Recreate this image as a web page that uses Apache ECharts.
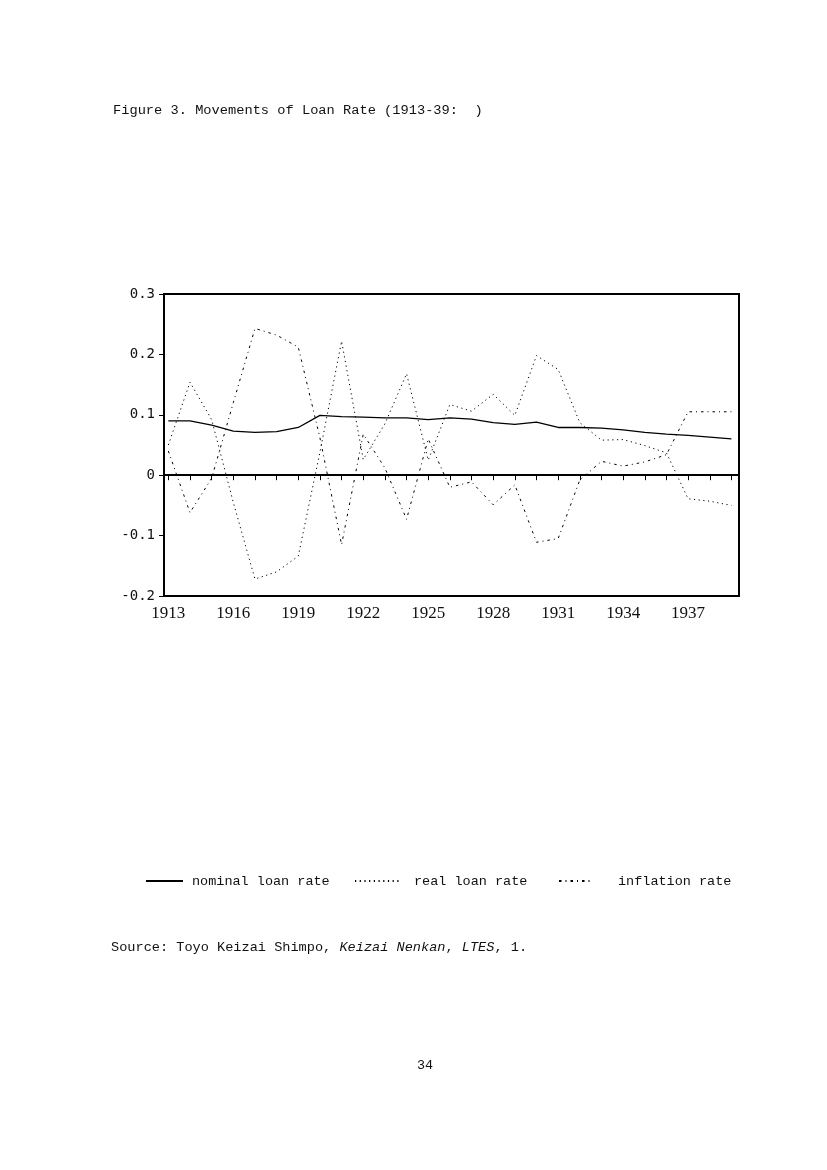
<!DOCTYPE html>
<html>
<head>
<meta charset="utf-8">
<script src="https://cdn.jsdelivr.net/npm/echarts@6/dist/echarts.min.js"></script>
<style>
  html, body { margin: 0; padding: 0; background: #fff; }
  #chart { width: 827px; height: 1170px; }
</style>
</head>
<body>
<div id="chart"></div>
<script>
// ---- data ----
const years = [1913,1914,1915,1916,1917,1918,1919,1920,1921,1922,1923,1924,1925,1926,
               1927,1928,1929,1930,1931,1932,1933,1934,1935,1936,1937,1938,1939];
const nominalLoanRate = [0.090,0.090,0.083,0.073,0.071,0.072,0.079,0.099,0.097,0.096,0.095,0.095,0.092,
                         0.095,0.093,0.087,0.084,0.088,0.079,0.079,0.078,0.075,0.071,0.068,0.066,0.063,0.060];
const realLoanRate = [0.050,0.154,0.092,-0.045,-0.172,-0.160,-0.134,0.038,0.222,0.026,0.085,0.168,0.025,
                      0.117,0.106,0.134,0.099,0.198,0.175,0.087,0.058,0.059,0.049,0.037,-0.039,-0.043,-0.050];
const inflationRate = [0.040,-0.062,-0.005,0.120,0.243,0.232,0.212,0.062,-0.115,0.068,0.012,-0.073,0.060,
                       -0.020,-0.011,-0.049,-0.016,-0.111,-0.105,-0.008,0.023,0.015,0.022,0.034,0.105,0.105,0.105];
const xTickLabels = [1913,1916,1919,1922,1925,1928,1931,1934,1937];
const seriesNames = ['nominal loan rate', 'real loan rate', 'inflation rate'];
const titleText = 'Figure 3. Movements of Loan Rate (1913-39:  )';
const pageNumber = '34';

const pairs = (vals) => years.map((y, i) => [y, vals[i]]);

const chart = echarts.init(document.getElementById('chart'), null, { renderer: 'canvas' });
const mono = 'Liberation Mono';
const baseText = { fontFamily: mono, fontSize: 13.5, color: '#111', fontWeight: 'normal' };
const legendBase = {
  orient: 'horizontal',
  top: 869,
  itemHeight: 14,
  itemStyle: { opacity: 0 },
  selectedMode: false
};

chart.setOption({
  backgroundColor: '#ffffff',
  animation: false,
  title: [
    { text: titleText, left: 108, top: 98,
      textStyle: { fontFamily: mono, fontSize: 13.7, fontWeight: 'normal', color: '#111' } },
    { text: '{a|Source: Toyo Keizai Shimpo, }{b|Keizai Nenkan}{a|, }{b|LTES}{a|, 1.}',
      left: 106, top: 935,
      textStyle: { fontWeight: 'normal', rich: {
        a: { fontFamily: mono, fontSize: 13.6, fontWeight: 'normal', color: '#111' },
        b: { fontFamily: mono, fontSize: 13.6, fontWeight: 'normal', fontStyle: 'italic', color: '#111' } } } },
    { text: pageNumber, left: 412, top: 1054,
      textStyle: { fontFamily: mono, fontSize: 13.4, fontWeight: 'normal', color: '#111' } }
  ],
  legend: [
    Object.assign({}, legendBase, { left: 140, itemWidth: 37, data: [seriesNames[0]],
      textStyle: Object.assign({}, baseText, { padding: [0,0,0,4] }) }),
    Object.assign({}, legendBase, { left: 349, itemWidth: 44, data: [seriesNames[1]],
      textStyle: Object.assign({}, baseText, { padding: [0,0,0,10] }) }),
    Object.assign({}, legendBase, { left: 553, itemWidth: 33, data: [seriesNames[2]],
      textStyle: Object.assign({}, baseText, { padding: [0,0,0,21] }) })
  ],
  grid: {
    left: 164, right: 88, top: 294, bottom: 574,
    show: true, borderColor: '#000', borderWidth: 2, backgroundColor: 'transparent'
  },
  xAxis: {
    type: 'value', min: 1912.8, max: 1939.35,
    splitLine: { show: false },
    axisLine: { show: true, lineStyle: { color: '#000', width: 2 } },
    axisTick: { show: true, length: 5, customValues: years, lineStyle: { color: '#000' } },
    axisLabel: { customValues: xTickLabels, margin: 9, formatter: (v) => String(v),
      fontFamily: 'Liberation Serif', fontSize: 17, color: '#111' }
  },
  yAxis: {
    type: 'value', min: -0.2, max: 0.3, interval: 0.1,
    splitLine: { show: false },
    axisLine: { show: true, lineStyle: { color: '#000', width: 2 } },
    axisTick: { show: true, length: 5, lineStyle: { color: '#000' } },
    axisLabel: { margin: 9, formatter: (v) => String(Math.round(v * 10) / 10),
      fontFamily: 'DejaVu Sans Mono', fontSize: 14, color: '#111' }
  },
  series: [
    { name: seriesNames[0], type: 'line', data: pairs(nominalLoanRate), symbol: 'none',
      lineStyle: { color: '#000', width: 1.3, type: 'solid' }, itemStyle: { color: '#000' },
      markLine: { silent: true, symbol: 'none', label: { show: false },
        lineStyle: { color: '#000', width: 1.2, type: 'solid' }, data: [{ yAxis: 0 }] } },
    { name: seriesNames[1], type: 'line', data: pairs(realLoanRate), symbol: 'none',
      lineStyle: { color: '#000', width: 1, type: [1.2, 3.5] }, itemStyle: { color: '#000' } },
    { name: seriesNames[2], type: 'line', data: pairs(inflationRate), symbol: 'none',
      lineStyle: { color: '#000', width: 1, type: [2.5, 4, 1, 4] }, itemStyle: { color: '#000' } }
  ]
});
</script>
</body>
</html>
